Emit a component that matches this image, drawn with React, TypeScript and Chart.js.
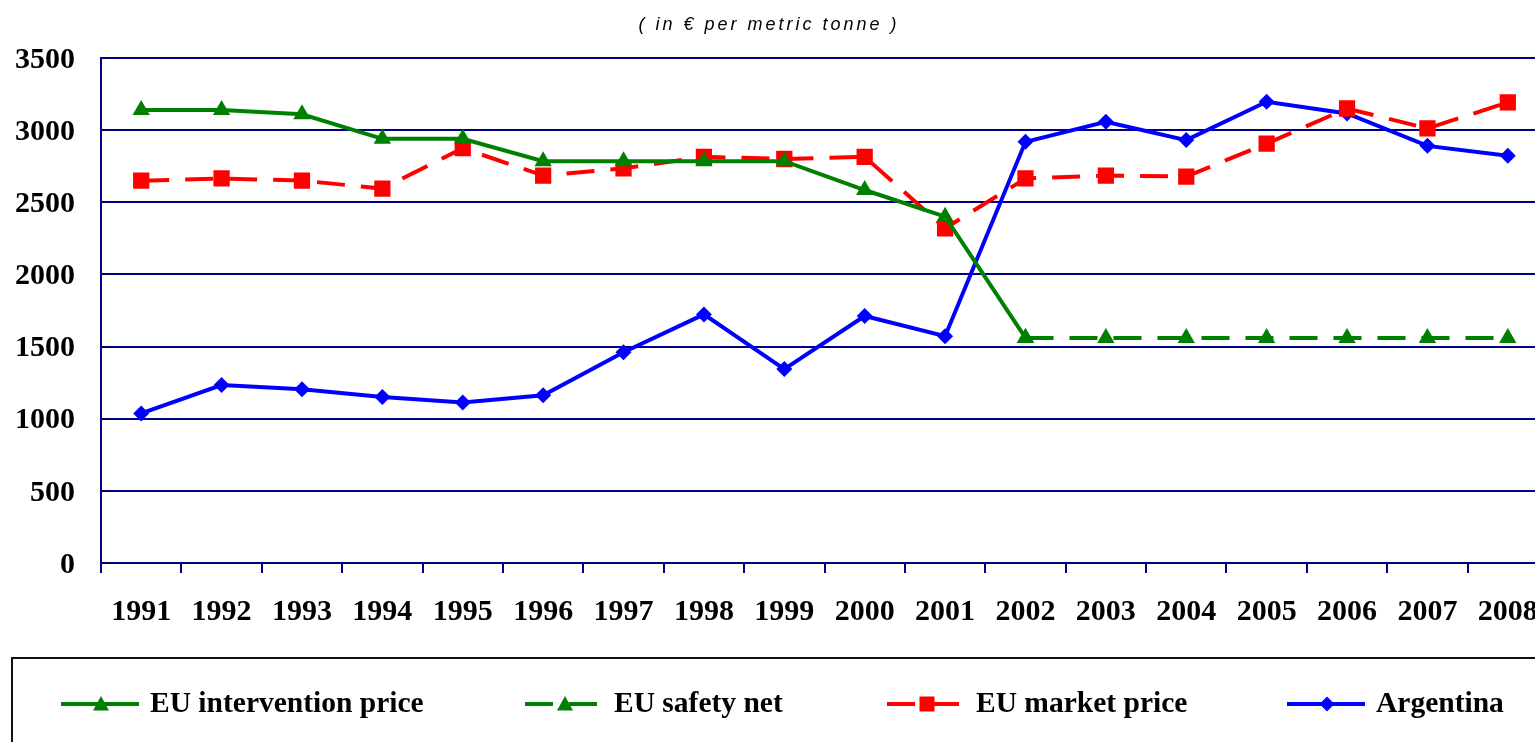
import React, { useEffect, useRef } from 'react';
import { Chart, registerables } from 'chart.js';

Chart.register(...registerables);

const years = ['1991', '1992', '1993', '1994', '1995', '1996', '1997', '1998', '1999', '2000', '2001', '2002', '2003', '2004', '2005', '2006', '2007', '2008'];
const interventionPrice = [3140, 3140, 3110, 2940, 2940, 2785, 2785, 2785, 2785, 2585, 2400, 1560, null, null, null, null, null, null];
const safetyNet = [null, null, null, null, null, null, null, null, null, null, null, 1560, 1560, 1560, 1560, 1560, 1560, 1560];
const marketPrice = [2650, 2665, 2650, 2595, 2875, 2685, 2735, 2815, 2800, 2815, 2320, 2665, 2685, 2678, 2907, 3150, 3012, 3192];
const argentina = [1037, 1233, 1205, 1151, 1112, 1163, 1461, 1723, 1344, 1712, 1572, 2919, 3058, 2931, 3197, 3116, 2891, 2822];
const yMin = 0;
const yMax = 3500;
const yStep = 500;
const titleText = '( in € per metric tonne )';

const GREEN = '#008000';
const RED = '#FF0000';
const BLUE = '#0000FF';
const NAVY = '#000080';
const SERIF = '"Liberation Serif", "Times New Roman", serif';
const DASH = [28, 16];

function drawMarker(ctx: CanvasRenderingContext2D, kind: string, x: number, y: number, color: string) {
  ctx.save();
  ctx.fillStyle = color;
  ctx.setLineDash([]);
  ctx.beginPath();
  if (kind === 'triangle') {
    ctx.moveTo(x, y - 8);
    ctx.lineTo(x + 8, y + 6.5);
    ctx.lineTo(x - 8, y + 6.5);
    ctx.closePath();
  } else if (kind === 'rect') {
    ctx.rect(x - 7.5, y - 7.5, 15, 15);
  } else {
    ctx.moveTo(x, y - 7.5);
    ctx.lineTo(x + 7.5, y);
    ctx.lineTo(x, y + 7.5);
    ctx.lineTo(x - 7.5, y);
    ctx.closePath();
  }
  ctx.fill();
  ctx.restore();
}

const decorPlugin = {
  id: 'decor',
  afterDraw(chart: any) {
    const ctx: CanvasRenderingContext2D = chart.ctx;
    ctx.save();
    // title
    ctx.font = 'italic 18px "Liberation Sans Narrow", "Liberation Sans", Arial, sans-serif';
    (ctx as any).letterSpacing = '3px';
    ctx.fillStyle = '#000';
    ctx.textAlign = 'center';
    ctx.textBaseline = 'middle';
    ctx.fillText(titleText, 769, 25);
    (ctx as any).letterSpacing = '0px';

    // legend frame
    ctx.lineWidth = 2;
    ctx.strokeStyle = '#111';
    ctx.setLineDash([]);
    ctx.strokeRect(12, 658, 1700, 200);

    const starts = [61, 525, 887, 1287];
    const markers = ['triangle', 'triangle', 'rect', 'rectRot'];
    const ly = 704;
    chart.data.datasets.forEach((ds: any, i: number) => {
      const x0 = starts[i];
      ctx.save();
      ctx.strokeStyle = ds.borderColor;
      ctx.lineWidth = 4;
      ctx.setLineDash(ds.borderDash || []);
      ctx.beginPath();
      ctx.moveTo(x0, ly);
      ctx.lineTo(x0 + 78, ly);
      ctx.stroke();
      ctx.restore();
      drawMarker(ctx, markers[i], x0 + 40, ly, ds.borderColor);
      ctx.fillStyle = '#000';
      ctx.font = 'bold 29.5px ' + SERIF;
      ctx.textAlign = 'left';
      ctx.textBaseline = 'middle';
      ctx.fillText(ds.label, x0 + 89, ly);
    });
    ctx.restore();
  },
};

export default function App() {
  const ref = useRef<HTMLCanvasElement | null>(null);

  useEffect(() => {
    document.documentElement.style.overflow = 'hidden';
    document.body.style.overflow = 'hidden';
    const canvas = ref.current;
    if (!canvas) return;
    const chart = new Chart(canvas, {
      type: 'line',
      data: {
        labels: years,
        datasets: [
          {
            label: 'EU intervention price',
            data: interventionPrice,
            borderColor: GREEN,
            backgroundColor: GREEN,
            borderWidth: 4,
            pointStyle: 'triangle',
            pointRadius: 10,
            pointBorderWidth: 0,
            spanGaps: false,
            tension: 0,
          },
          {
            label: 'EU safety net',
            data: safetyNet,
            borderColor: GREEN,
            backgroundColor: GREEN,
            borderWidth: 4,
            borderDash: DASH,
            pointStyle: 'triangle',
            pointRadius: 10,
            pointBorderWidth: 0,
            spanGaps: false,
            tension: 0,
          },
          {
            label: 'EU market price',
            data: marketPrice,
            borderColor: RED,
            backgroundColor: RED,
            borderWidth: 4,
            borderDash: DASH,
            pointStyle: 'rect',
            pointRadius: 11.5,
            pointBorderWidth: 0,
            tension: 0,
          },
          {
            label: 'Argentina',
            data: argentina,
            borderColor: BLUE,
            backgroundColor: BLUE,
            borderWidth: 4,
            pointStyle: 'rectRot',
            pointRadius: 8,
            pointBorderWidth: 0,
            tension: 0,
          },
        ],
      },
      options: {
        responsive: false,
        animation: false,
        devicePixelRatio: 1,
        layout: { padding: { top: 58, right: 52, bottom: 0, left: 0 } },
        plugins: {
          legend: { display: false },
          title: { display: false },
          tooltip: { enabled: false },
        },
        scales: {
          x: {
            type: 'category',
            offset: true,
            grid: {
              display: true,
              offset: true,
              drawOnChartArea: false,
              drawTicks: true,
              tickLength: 10,
              color: NAVY,
              lineWidth: 2,
            },
            border: { display: true, color: NAVY, width: 2 },
            ticks: {
              color: '#000',
              font: { family: SERIF, size: 30, weight: 'bold' },
              padding: 21,
              maxRotation: 0,
              autoSkip: false,
            },
            afterFit: (scale: any) => {
              scale.height = 179;
            },
          },
          y: {
            min: yMin,
            max: yMax,
            grid: { color: NAVY, lineWidth: 2, drawTicks: false },
            border: { display: true, color: NAVY, width: 2 },
            ticks: {
              stepSize: yStep,
              color: '#000',
              font: { family: SERIF, size: 30, weight: 'bold' },
              padding: 26,
              labelOffset: 2,
              callback: (v: any) => String(v),
            },
            afterFit: (scale: any) => {
              scale.width = 101;
            },
          },
        },
      },
      plugins: [decorPlugin],
    } as any);
    return () => chart.destroy();
  }, []);

  return (
    <div style={{ position: 'fixed', left: 0, top: 0, width: 1600, height: 742, background: '#fff' }}>
      <canvas ref={ref} width={1600} height={742} style={{ display: 'block', width: 1600, height: 742 }} />
    </div>
  );
}
